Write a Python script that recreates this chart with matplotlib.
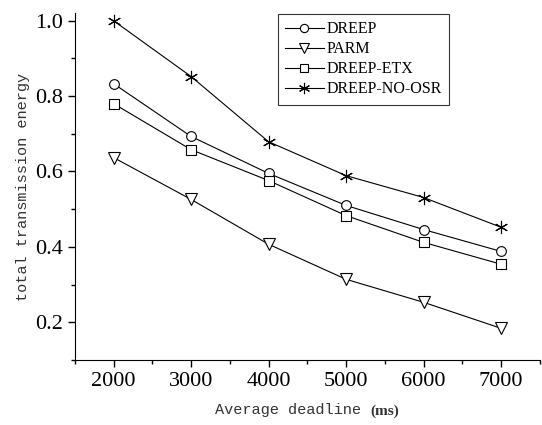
import matplotlib
matplotlib.use("Agg")
from matplotlib import pyplot as plt
from matplotlib.ticker import MultipleLocator

deadline = [2000, 3000, 4000, 5000, 6000, 7000]
dreep = [0.833, 0.693, 0.595, 0.510, 0.446, 0.388]
parm = [0.637, 0.526, 0.407, 0.314, 0.253, 0.184]
dreep_etx = [0.780, 0.658, 0.576, 0.483, 0.412, 0.354]
dreep_no_osr = [1.000, 0.852, 0.679, 0.589, 0.531, 0.452]

names = ["DREEP", "PARM", "DREEP-ETX", "DREEP-NO-OSR"]
series = [dreep, parm, dreep_etx, dreep_no_osr]
markers = ["o", "v", "s", (6, 2, 0)]
sizes = [7, 8.5, 6.5, 9.5]

fig = plt.figure(figsize=(5.42, 4.25), dpi=100)
ax = fig.add_axes([0.138, 0.153, 0.858, 0.816])

for i in range(len(series)):
    # white halo so the line stops short of the marker
    ax.plot(deadline, series[i], linestyle="none", marker=markers[i], ms=sizes[i] + 4,
            mfc="white", mec="white", mew=2, zorder=3)
    ax.plot(deadline, series[i], "k-", lw=0.8, marker=markers[i], ms=sizes[i],
            mfc="white", mec="black", mew=0.8, label=names[i], zorder=4)

ax.set_xlim(1500, 7500)
ax.set_ylim(0.1, 1.02)
ax.xaxis.set_minor_locator(MultipleLocator(500))
ax.yaxis.set_minor_locator(MultipleLocator(0.1))
ax.spines["top"].set_visible(False)
ax.spines["right"].set_visible(False)
ax.tick_params(which="major", direction="out", length=5, width=1, labelsize=16)
ax.tick_params(which="minor", direction="out", length=3, width=1)
ax.set_xticks(deadline)
ax.set_xticklabels([str(d) for d in deadline], fontfamily="Liberation Serif")
ax.set_yticks([0.2, 0.4, 0.6, 0.8, 1.0])
ax.set_yticklabels(["0.2", "0.4", "0.6", "0.8", "1.0"], fontfamily="Liberation Serif")

ax.set_ylabel("total transmission energy", fontfamily="Liberation Mono", fontsize=11,
              color="#333333", labelpad=4)
fig.text(0.397, 0.025, "Average deadline", fontfamily="Liberation Mono", fontsize=11, color="#333333")
fig.text(0.683, 0.025, "(ms)", fontfamily="Liberation Serif", fontsize=11, fontweight="bold", color="#333333")

leg = ax.legend(loc="upper left", bbox_to_anchor=(0.437, 0.997),
                prop={"family": "Liberation Serif", "size": 11.5},
                frameon=True, fancybox=False, edgecolor="black", handlelength=2.4,
                handletextpad=0.2, borderpad=0.45, labelspacing=0.25, borderaxespad=0,
                markerscale=0.85)
leg.get_frame().set_linewidth(0.8)

plt.savefig("out.png")
plt.close()
